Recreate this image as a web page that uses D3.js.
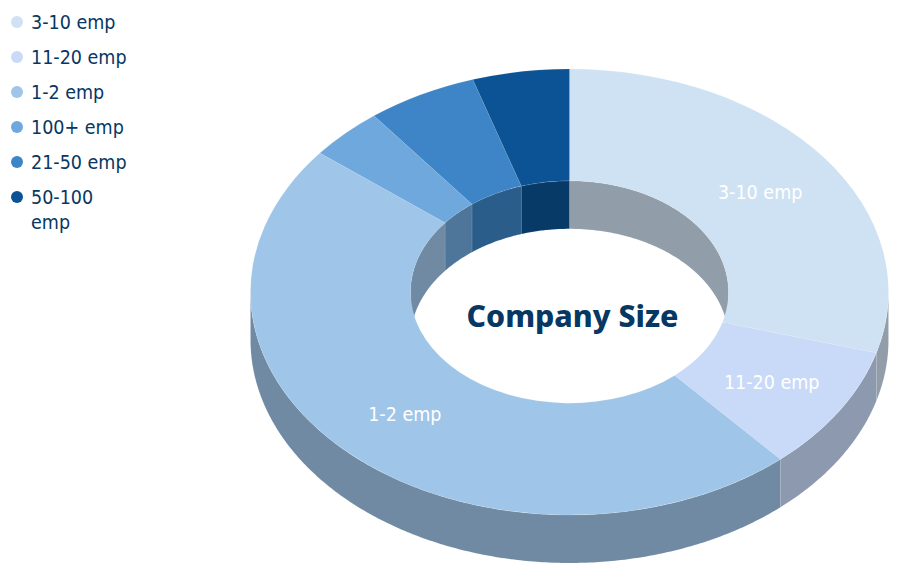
<!DOCTYPE html>
<html>
<head>
<meta charset="utf-8">
<script src="https://cdn.jsdelivr.net/npm/d3@7/dist/d3.min.js"></script>
<style>
html,body{margin:0;padding:0;background:#fff;}
svg{display:block;}
</style>
</head>
<body>
<svg id="chart" width="900" height="572"></svg>
<script>
const categories = ["3-10 emp","11-20 emp","1-2 emp","100+ emp","21-50 emp","50-100 emp"];
const values = [29.4,9.1,47.2,3.8,5.6,4.9];
const palette = ["#cfe2f3","#c9daf8","#9fc5e8","#6fa8dc","#3d85c6","#0b5394"];
const sliceLabels = ["3-10 emp","11-20 emp","1-2 emp"];
const legendLines = [["3-10 emp"],["11-20 emp"],["1-2 emp"],["100+ emp"],["21-50 emp"],["50-100","emp"]];
const centerTitle = "Company Size";

const cx = 569.5, cy = 292, rOuter = 319, rInner = 159, tilt = 223/319, depth = 48;
const ink = "#073763";
const bodyFont = "'DejaVu Sans Condensed', 'DejaVu Sans', sans-serif";
const svg = d3.select("#chart");
const color = d3.scaleOrdinal().domain(categories).range(palette);
const dark = c => { const r = d3.rgb(c); return d3.rgb(r.r*0.7, r.g*0.7, r.b*0.7).formatHex(); };
const seam = "rgba(255,255,255,0.15)";

const pie = d3.pie().sort(null).value(d => d.v);
const arcs = pie(categories.map((c,i) => ({c, v: values[i]})));
const PI = Math.PI;

const band = (r, a0, a1) => {
  const n = Math.max(2, Math.ceil((a1-a0)/0.01));
  const angles = d3.range(n+1).map(i => a0 + (a1-a0)*i/n);
  const top = angles.map(a => [cx + r*Math.sin(a), cy - r*tilt*Math.cos(a)]);
  const bottom = top.map(p => [p[0], p[1] + depth]).reverse();
  return d3.line()(top.concat(bottom)) + "Z";
};

const gOuter = svg.append("g");
arcs.forEach(d => {
  const a0 = Math.max(d.startAngle, PI/2), a1 = Math.min(d.endAngle, 3*PI/2);
  if (a1 <= a0) return;
  gOuter.append("path").attr("d", band(rOuter, a0, a1))
    .attr("fill", dark(color(d.data.c))).attr("stroke", seam).attr("stroke-width", 0.5);
});

const gInner = svg.append("g");
arcs.forEach(d => {
  const ranges = [[d.startAngle, Math.min(d.endAngle, PI/2)], [Math.max(d.startAngle, 3*PI/2), d.endAngle]];
  ranges.forEach(([a0,a1]) => {
    if (a1 <= a0) return;
    gInner.append("path").attr("d", band(rInner, a0, a1))
      .attr("fill", dark(color(d.data.c))).attr("stroke", seam).attr("stroke-width", 0.5);
  });
});

const arc = d3.arc().innerRadius(rInner).outerRadius(rOuter);
svg.append("g").attr("transform", `translate(${cx},${cy}) scale(1,${tilt})`)
  .selectAll("path").data(arcs).join("path")
  .attr("d", arc).attr("fill", d => color(d.data.c))
  .attr("stroke", "rgba(255,255,255,0.18)").attr("stroke-width", 0.5)
  .attr("vector-effect", "non-scaling-stroke");

svg.append("g").selectAll("text")
  .data(arcs.filter(d => sliceLabels.includes(d.data.c))).join("text")
  .attr("x", d => cx + arc.centroid(d)[0])
  .attr("y", d => cy + 1 + arc.centroid(d)[1]*tilt)
  .attr("dy", "0.35em").attr("text-anchor", "middle")
  .attr("font-family", bodyFont).attr("font-size", 19.5)
  .attr("fill", "#fff").text(d => d.data.c);

svg.append("text").attr("x", 572.5).attr("y", 327).attr("text-anchor", "middle")
  .attr("font-family", "'Noto Sans', sans-serif").attr("font-weight", 800)
  .attr("font-size", 30.3).attr("fill", ink).text(centerTitle);

const legendY = d3.scalePoint().domain(categories).range([22,197]);
const legend = svg.append("g").selectAll("g").data(categories).join("g")
  .attr("transform", d => `translate(0,${legendY(d)})`);
legend.append("circle").attr("cx", 17).attr("cy", 0).attr("r", 6).attr("fill", d => color(d));
legend.each(function(d,i){
  legendLines[i].forEach((t,j) => {
    d3.select(this).append("text").attr("x", 31).attr("y", j*25).attr("dy", "0.35em")
      .attr("font-family", bodyFont).attr("font-size", 19.5)
      .attr("fill", ink).text(t);
  });
});
</script>
</body>
</html>
